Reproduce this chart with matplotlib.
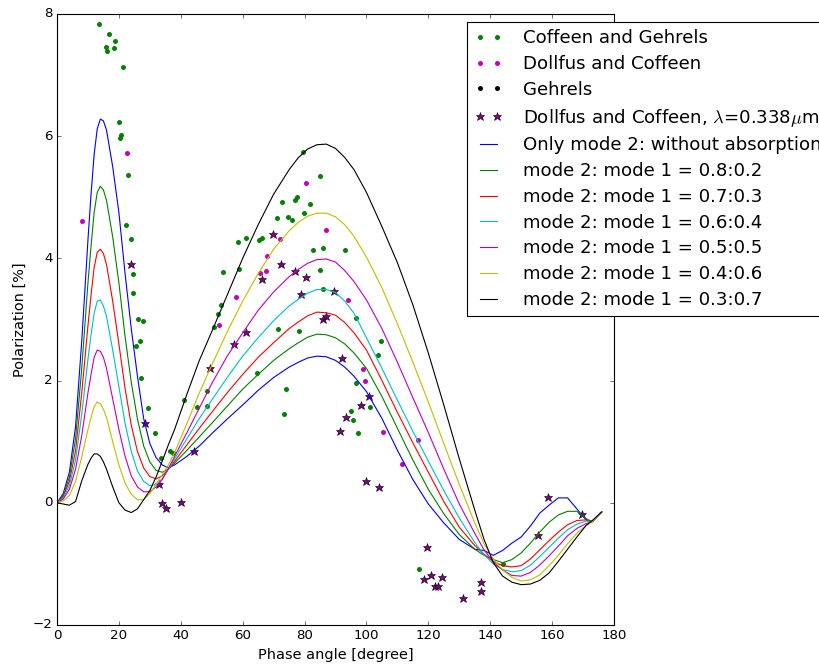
import matplotlib
matplotlib.use("Agg")
import matplotlib.pyplot as plt

# phase angle grid of the model curves [degree]
phase = [0, 2, 4, 6, 8, 10, 11, 12, 13, 14, 15, 16, 18, 20, 22, 24, 26, 28, 30, 32, 34, 36, 38,
         42, 46, 50, 55, 60, 65, 70, 75, 78, 81, 84, 87, 90, 93, 96, 100, 105, 110, 115, 120,
         125, 130, 135, 138, 141, 144, 147, 150, 153, 156, 159, 162, 165, 168, 171, 173, 176]

only_mode2 = [0, 0.15, 0.5, 1.25, 2.65, 4.3, 5.05, 5.7, 6.12, 6.28, 6.25, 6.1, 5.5, 4.75, 3.75,
              2.85, 2.07, 1.38, 0.97, 0.74, 0.62, 0.57, 0.62, 0.76, 0.93, 1.13, 1.37, 1.6, 1.84,
              2.05, 2.22, 2.3, 2.37, 2.4, 2.39, 2.33, 2.22, 2.07, 1.82, 1.38, 0.86, 0.38, -0.02,
              -0.33, -0.6, -0.76, -0.78, -0.86, -0.78, -0.66, -0.56, -0.38, -0.17, -0.04, 0.08,
              0.08, -0.1, -0.28, -0.31, -0.15]
mix_82 = [0, 0.12, 0.42, 1.05, 2.2, 3.6, 4.2, 4.75, 5.08, 5.18, 5.12, 4.95, 4.35, 3.6, 2.72,
          1.97, 1.37, 0.93, 0.67, 0.53, 0.5, 0.55, 0.65, 0.86, 1.08, 1.3, 1.58, 1.86, 2.1,
          2.33, 2.52, 2.62, 2.71, 2.76, 2.75, 2.7, 2.6, 2.45, 2.2, 1.74, 1.22, 0.7, 0.22,
          -0.18, -0.52, -0.76, -0.86, -0.93, -0.98, -0.93, -0.82, -0.66, -0.48, -0.32, -0.2,
          -0.14, -0.14, -0.26, -0.31, -0.15]
mix_73 = [0, 0.1, 0.35, 0.85, 1.8, 2.9, 3.4, 3.85, 4.1, 4.15, 4.08, 3.9, 3.3, 2.6, 1.87,
          1.27, 0.84, 0.57, 0.43, 0.39, 0.44, 0.55, 0.68, 0.95, 1.22, 1.48, 1.8, 2.1, 2.38,
          2.62, 2.85, 2.96, 3.06, 3.12, 3.11, 3.07, 2.95, 2.78, 2.5, 2.0, 1.48, 0.98, 0.5,
          0.02, -0.4, -0.7, -0.84, -0.96, -1.03, -1.05, -1.03, -0.92, -0.77, -0.62, -0.48,
          -0.36, -0.29, -0.28, -0.31, -0.15]
mix_64 = [0, 0.08, 0.28, 0.7, 1.45, 2.35, 2.75, 3.1, 3.3, 3.32, 3.22, 3.05, 2.5, 1.9, 1.3,
          0.84, 0.52, 0.35, 0.28, 0.3, 0.39, 0.55, 0.72, 1.05, 1.38, 1.68, 2.05, 2.4, 2.7,
          2.98, 3.22, 3.33, 3.43, 3.49, 3.49, 3.44, 3.3, 3.1, 2.7, 2.2, 1.68, 1.17, 0.68,
          0.2, -0.25, -0.65, -0.85, -1.0, -1.09, -1.13, -1.11, -1.02, -0.88, -0.73, -0.58,
          -0.44, -0.35, -0.3, -0.31, -0.15]
mix_55 = [0, 0.06, 0.22, 0.55, 1.1, 1.8, 2.1, 2.38, 2.5, 2.48, 2.38, 2.2, 1.7, 1.2, 0.76,
          0.44, 0.26, 0.18, 0.18, 0.26, 0.38, 0.56, 0.76, 1.15, 1.55, 1.95, 2.4, 2.78, 3.15,
          3.45, 3.7, 3.82, 3.92, 3.98, 3.99, 3.94, 3.8, 3.62, 3.32, 2.85, 2.3, 1.72, 1.15,
          0.55, -0.02, -0.5, -0.77, -0.97, -1.1, -1.19, -1.2, -1.14, -1.02, -0.87, -0.71,
          -0.54, -0.42, -0.34, -0.31, -0.15]
mix_46 = [0, 0.03, 0.12, 0.35, 0.75, 1.2, 1.4, 1.57, 1.65, 1.62, 1.53, 1.4, 1.0, 0.62, 0.32,
          0.14, 0.05, 0.05, 0.15, 0.3, 0.46, 0.62, 0.82, 1.3, 1.8, 2.25, 2.8, 3.3, 3.75,
          4.15, 4.45, 4.59, 4.69, 4.74, 4.74, 4.68, 4.55, 4.36, 4.02, 3.52, 2.93, 2.3, 1.65,
          0.97, 0.3, -0.33, -0.67, -0.92, -1.1, -1.22, -1.28, -1.26, -1.18, -1.03, -0.86,
          -0.67, -0.5, -0.37, -0.31, -0.15]
mix_37 = [0, -0.02, -0.04, 0.02, 0.36, 0.63, 0.73, 0.8, 0.8, 0.76, 0.67, 0.55, 0.26, 0.0, -0.12,
          -0.16, -0.1, 0.05, 0.2, 0.42, 0.68, 0.95, 1.2, 1.78, 2.33, 2.8, 3.4, 4.0, 4.55,
          5.05, 5.45, 5.65, 5.79, 5.86, 5.87, 5.8, 5.65, 5.45, 5.08, 4.52, 3.93, 3.24, 2.45,
          1.6, 0.72, -0.12, -0.6, -0.98, -1.2, -1.3, -1.34, -1.33, -1.27, -1.15, -0.96,
          -0.76, -0.56, -0.37, -0.29, -0.15]

curve_labels = ["Only mode 2: without absorption",
                "mode 2: mode 1 = 0.8:0.2", "mode 2: mode 1 = 0.7:0.3",
                "mode 2: mode 1 = 0.6:0.4", "mode 2: mode 1 = 0.5:0.5",
                "mode 2: mode 1 = 0.4:0.6", "mode 2: mode 1 = 0.3:0.7"]

# observations
cg_phase = [13.6, 16.9, 18.8, 15.8, 16.3, 18.5, 21.4, 20.0, 20.8, 20.5, 22.8, 22.4, 23.8, 24.6,
            24.6, 26.3, 27.8, 26.9, 25.6, 27.0, 29.5, 31.7, 33.6, 36.5, 37.4, 41.0, 45.1, 48.4,
            48.6, 50.6, 52.1, 52.9, 53.8, 58.7, 58.4, 61.1, 65.4, 66.4, 64.6, 71.0, 72.6, 74.8,
            75.8, 77.0, 77.5, 79.5, 79.7, 81.9, 85.0, 82.8, 86.1, 93.1, 85.1, 86.1, 71.3, 78.1,
            74.0, 73.5, 96.7, 104.7, 103.8, 96.5, 95.1, 95.8, 101.2, 97.2, 117.0, 144.2]
cg_pol = [7.83, 7.67, 7.56, 7.46, 7.39, 7.44, 7.13, 6.23, 6.02, 5.97, 5.36, 4.55, 4.32, 3.74,
          3.43, 3.0, 2.98, 2.65, 2.57, 2.04, 1.55, 1.15, 0.74, 0.84, 0.81, 1.68, 1.57, 1.58,
          1.83, 2.87, 3.09, 3.23, 3.78, 3.82, 4.27, 4.34, 4.30, 4.34, 2.12, 4.66, 4.93, 4.68,
          4.63, 4.96, 5.0, 5.74, 4.74, 4.89, 5.34, 4.13, 4.17, 4.14, 3.81, 3.50, 2.84, 2.81,
          1.86, 1.46, 3.03, 2.65, 2.42, 1.96, 1.50, 1.36, 1.56, 1.15, -1.09, -1.01]

dc_phase = [8.2, 22.6, 52.4, 58.0, 65.6, 67.4, 67.8, 72.1, 80.4, 87.0, 94.0, 98.8, 99.6, 105.2,
            111.4, 116.5]
dc_pol = [4.61, 5.73, 2.91, 3.36, 3.76, 3.80, 4.04, 4.31, 5.23, 4.46, 3.32, 2.19, 2.00, 1.16,
          0.64, 1.02]

g_phase = []
g_pol = []

uv_phase = [23.9, 28.3, 33.1, 33.8, 35.2, 40.1, 44.2, 49.4, 57.2, 61.0, 66.1, 69.9, 72.3, 76.9,
            78.9, 80.6, 85.8, 86.9, 89.5, 92.0, 91.4, 93.4, 98.2, 100.7, 99.9, 104.2, 119.7,
            118.7, 120.9, 122.1, 123.1, 124.4, 131.1, 137.0, 137.0, 155.6, 158.8, 169.8]
uv_pol = [3.91, 1.30, 0.30, 0.0, -0.09, 0.01, 0.84, 2.20, 2.60, 2.80, 3.66, 4.40, 3.91, 3.80,
          3.41, 3.70, 3.00, 3.05, 3.47, 2.37, 1.18, 1.40, 1.60, 1.75, 0.35, 0.26, -0.72,
          -1.25, -1.19, -1.37, -1.37, -1.21, -1.56, -1.30, -1.44, -0.52, 0.10, -0.18]

plt.style.use("classic")
plt.rcParams["mathtext.fontset"] = "cm"

fig = plt.figure(figsize=(819 / 80, 668 / 80), dpi=80, facecolor="white")
ax = fig.add_axes([0.0696, 0.0644, 0.6801, 0.9147])

ax.plot(cg_phase, cg_pol, "o", color="g", ms=4.5, mew=0, label="Coffeen and Gehrels")
ax.plot(dc_phase, dc_pol, "o", color="m", ms=4.5, mew=0, label="Dollfus and Coffeen")
ax.plot(g_phase, g_pol, "o", color="k", ms=4.5, mew=0, label="Gehrels")
ax.plot(uv_phase, uv_pol, "*", color="purple", mec="k", ms=8,
        label=r"Dollfus and Coffeen, $\lambda$=0.338$\mu$m")

curves = [only_mode2, mix_82, mix_73, mix_64, mix_55, mix_46, mix_37]
colors = ["b", "g", "r", "c", "m", "y", "k"]
for pol, col, lab in zip(curves, colors, curve_labels):
    ax.plot(phase, pol, color=col, label=lab)

ax.set_xlim(0, 180)
ax.set_ylim(-2, 8)
ax.set_xlabel("Phase angle [degree]", fontsize=13)
ax.set_ylabel("Polarization [%]", fontsize=13)
ax.legend(loc="upper left", bbox_to_anchor=(0.736, 0.987), borderaxespad=0,
          numpoints=2, fontsize=16.3, handlelength=1.55, handletextpad=1.15,
          labelspacing=0.43)

fig.savefig("out.png", dpi=80, facecolor="white")
